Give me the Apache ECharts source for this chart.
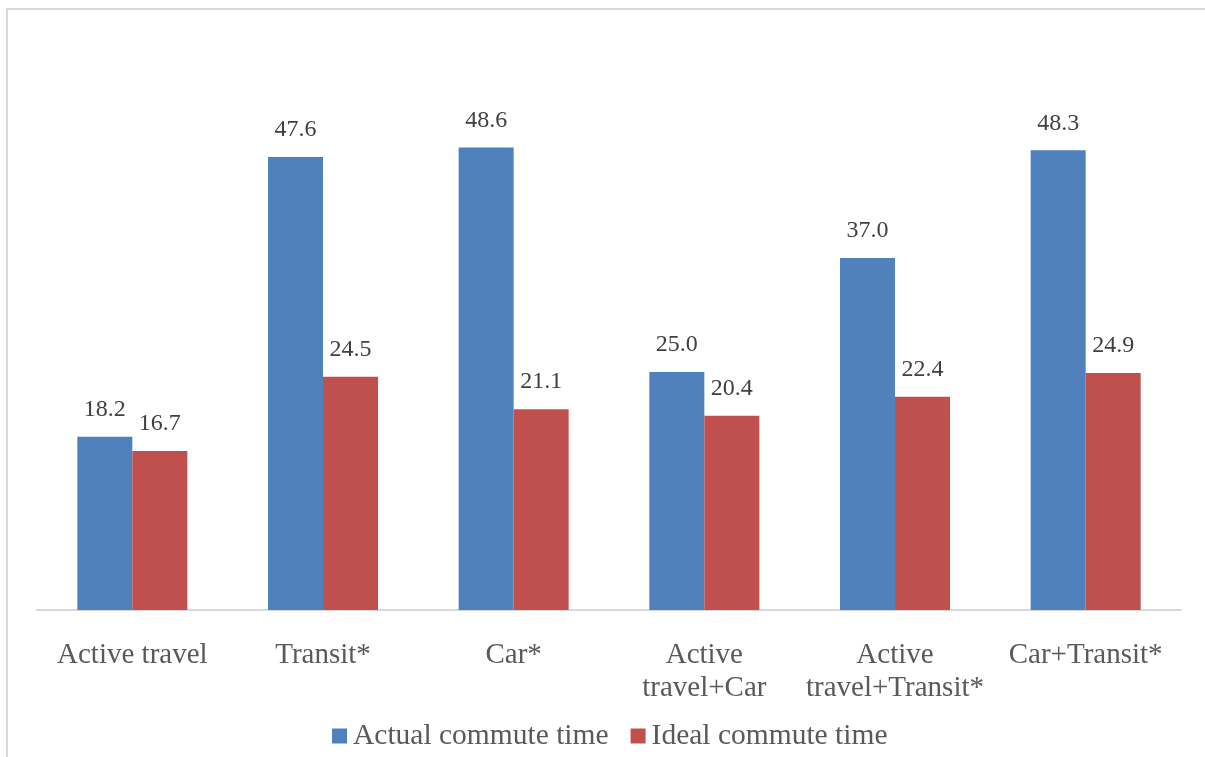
<!DOCTYPE html>
<html>
<head>
<meta charset="utf-8">
<script src="https://cdn.jsdelivr.net/npm/echarts@6/dist/echarts.min.js"></script>
<style>
  html, body { margin: 0; padding: 0; background: #ffffff; }
  #chart { width: 1205px; height: 757px; }
</style>
</head>
<body>
<div id="chart"></div>
<script>
// Commute modes and average commute times (minutes)
const categories = ['Active travel', 'Transit*', 'Car*', 'Active\ntravel+Car', 'Active\ntravel+Transit*', 'Car+Transit*'];
const actualTime = [18.2, 47.6, 48.6, 25.0, 37.0, 48.3];
const idealTime = [16.7, 24.5, 21.1, 20.4, 22.4, 24.9];
const seriesNames = ['Actual commute time', 'Ideal commute time'];

const FONT = '"Liberation Serif", "Times New Roman", serif';

const valueLabel = {
  show: true,
  position: 'top',
  distance: 15,
  fontFamily: FONT,
  fontSize: 24,
  color: '#404040',
  formatter: p => p.value.toFixed(1)
};

const chart = echarts.init(document.getElementById('chart'), null, { renderer: 'canvas' });

chart.setOption({
  animation: false,
  backgroundColor: '#ffffff',
  graphic: [{
    type: 'rect',
    shape: { x: 7, y: 9, width: 1300, height: 900 },
    style: { fill: 'none', stroke: '#d9d9d9', lineWidth: 2 },
    silent: true
  }],
  grid: { left: 37, right: 24, top: 39, bottom: 147, containLabel: false },
  legend: {
    bottom: 1,
    left: 327,
    itemWidth: 15,
    itemHeight: 15,
    itemGap: 22,
    icon: 'rect',
    textStyle: { fontFamily: FONT, fontSize: 29.5, color: '#595959', padding: [0, 0, 0, 1] },
    data: seriesNames
  },
  xAxis: {
    type: 'category',
    data: categories,
    axisLine: { show: true, lineStyle: { color: '#d9d9d9', width: 2 } },
    axisTick: { show: false },
    axisLabel: {
      interval: 0,
      margin: 29,
      fontFamily: FONT,
      fontSize: 29,
      lineHeight: 33,
      color: '#595959'
    }
  },
  yAxis: {
    type: 'value',
    min: 0,
    max: 60,
    show: false,
    splitLine: { show: false }
  },
  series: [
    {
      name: seriesNames[0],
      type: 'bar',
      data: actualTime,
      barWidth: 55,
      barGap: '0%',
      itemStyle: { color: '#4f81bd' },
      label: valueLabel
    },
    {
      name: seriesNames[1],
      type: 'bar',
      data: idealTime,
      barWidth: 55,
      itemStyle: { color: '#c0504d' },
      label: valueLabel
    }
  ]
});
</script>
</body>
</html>
